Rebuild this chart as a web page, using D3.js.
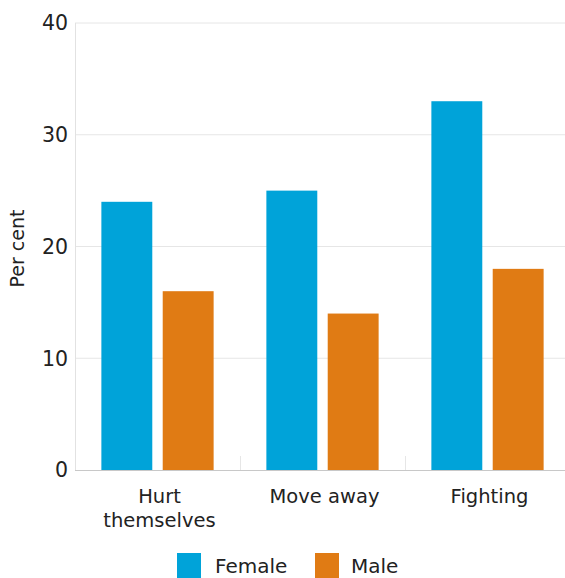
<!DOCTYPE html>
<html>
<head>
<meta charset="utf-8">
<script src="https://cdn.jsdelivr.net/npm/d3@7"></script>
<style>
  html, body { margin: 0; padding: 0; background: #fff; }
  svg { display: block; }
  text { font-family: "DejaVu Sans", Verdana, sans-serif; fill: #222; }
</style>
</head>
<body>
<svg id="chart" width="565" height="578"></svg>
<script>
// Share of young people reporting each behaviour, by sex
const categories = ["Hurt themselves", "Move away", "Fighting"];
const categoryLines = [["Hurt", "themselves"], ["Move away"], ["Fighting"]];
const series = ["Female", "Male"];
const femaleValues = [24, 25, 33];
const maleValues = [16, 14, 18];
const yTicks = [0, 10, 20, 30, 40];
const colors = ["#00a3d9", "#e07b14"];

const svg = d3.select("#chart");
const margin = { left: 75, right: -5, top: 23, bottom: 108 };
const W = 565, H = 578;
const x0 = margin.left, x1 = W - margin.right;
const yTop = margin.top, yBottom = H - margin.bottom;

const x = d3.scaleBand().domain(categories).range([x0, x1]).paddingInner(0).paddingOuter(0);
const xs = d3.scaleBand().domain(series).range([0, x.bandwidth()]).paddingInner(0.17).paddingOuter(0.43);
const y = d3.scaleLinear().domain([0, 40]).range([yBottom, yTop]);

// horizontal gridlines
svg.append("g").selectAll("line").data(yTicks.filter(t => t > 0)).join("line")
  .attr("x1", x0).attr("x2", W)
  .attr("y1", d => y(d)).attr("y2", d => y(d))
  .attr("stroke", "#e6e6e6").attr("stroke-width", 1);

// left axis line
svg.append("line").attr("x1", x0 + 0.5).attr("x2", x0 + 0.5)
  .attr("y1", yTop).attr("y2", yBottom)
  .attr("stroke", "#e2e2e2");

// band separators on the baseline
svg.append("g").selectAll("line").data(categories.slice(1)).join("line")
  .attr("x1", d => Math.round(x(d)) + 0.5).attr("x2", d => Math.round(x(d)) + 0.5)
  .attr("y1", yBottom - 14).attr("y2", yBottom)
  .attr("stroke", "#e6e6e6");

// bars
const rows = categories.map((c, i) => ({ c, vals: [femaleValues[i], maleValues[i]] }));
const groups = svg.append("g").selectAll("g").data(rows).join("g")
  .attr("transform", d => `translate(${x(d.c)},0)`);
groups.selectAll("rect").data(d => d.vals.map((v, j) => ({ s: series[j], v, j }))).join("rect")
  .attr("x", d => xs(d.s))
  .attr("width", xs.bandwidth())
  .attr("y", d => y(d.v))
  .attr("height", d => y(0) - y(d.v))
  .attr("fill", d => colors[d.j]);

// baseline
svg.append("line").attr("x1", x0).attr("x2", W)
  .attr("y1", yBottom + 0.5).attr("y2", yBottom + 0.5)
  .attr("stroke", "#c8c8c8").attr("stroke-width", 1.2);

// y tick labels
svg.append("g").selectAll("text").data(yTicks).join("text")
  .attr("x", 68).attr("y", d => y(d))
  .attr("dy", "0.36em")
  .attr("text-anchor", "end")
  .attr("font-size", 20.5)
  .text(d => d);

// y axis title
svg.append("text")
  .attr("transform", `translate(24,${(yTop + yBottom) / 2 + 2}) rotate(-90)`)
  .attr("text-anchor", "middle")
  .attr("font-size", 19)
  .text("Per cent");

// category labels
const catLabels = svg.append("g").selectAll("text").data(categories).join("text")
  .attr("x", d => x(d) + x.bandwidth() / 2 + 2)
  .attr("y", 503)
  .attr("text-anchor", "middle")
  .attr("font-size", 19.5);
catLabels.selectAll("tspan").data((d, i) => categoryLines[i]).join("tspan")
  .attr("x", function () { return d3.select(this.parentNode).attr("x"); })
  .attr("dy", (d, i) => i === 0 ? 0 : 24)
  .text(d => d);

// legend
const legendItems = [{ s: "Female", x: 177, tx: 215 }, { s: "Male", x: 315, tx: 351 }];
const lg = svg.append("g");
lg.selectAll("rect").data(legendItems).join("rect")
  .attr("x", d => d.x).attr("y", 553).attr("width", 24).attr("height", 25)
  .attr("fill", (d, i) => colors[i]);
lg.selectAll("text").data(legendItems).join("text")
  .attr("x", d => d.tx).attr("y", 573)
  .attr("font-size", 20)
  .text(d => d.s);
</script>
</body>
</html>
